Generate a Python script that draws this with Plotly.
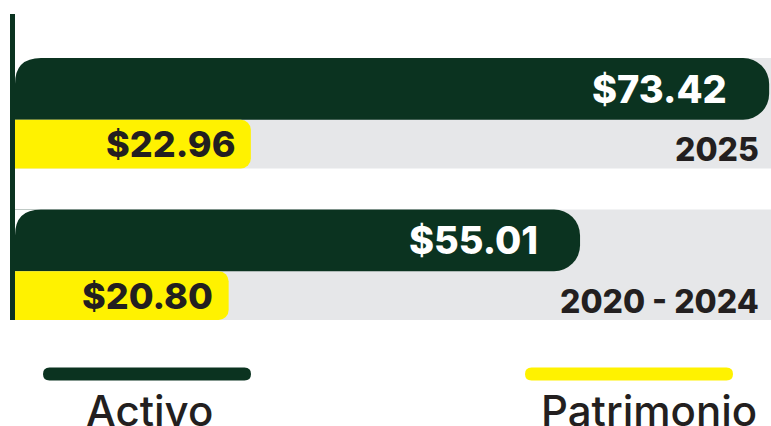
import plotly.graph_objects as go

# datos
periodos = ["2020 - 2024", "2025"]
activo = [55.01, 73.42]
patrimonio = [20.80, 22.96]
series = ["Activo", "Patrimonio"]

VERDE = "#0b3320"
AMARILLO = "#fff200"
GRIS = "#e6e7e9"
TEXTO = "#231f20"
FUENTE = "Inter, Open Sans, sans-serif"

W, H = 771, 426
L, R, T, B = 15, 0, 14, 106
PW, PH = W - L - R, H - T - B
ANCHO_ACT, ANCHO_PAT = 0.408, 0.322
RADIO = 26


def px_x(px):
    return (px - L) / PW


def px_y(py):
    return (H - B - py) / PH


def pill(x0, x1, yc, h):
    # rounded legend stroke, pixel sized
    n = x1 - x0
    r = h / 2
    path = (f"M {r},{-r} L {n - r},{-r} Q {n},{-r} {n},0 Q {n},{r} {n - r},{r} "
            f"L {r},{r} Q 0,{r} 0,0 Q 0,{-r} {r},{-r} Z")
    return dict(xref="paper", yref="paper", xsizemode="pixel", ysizemode="pixel",
                xanchor=px_x(x0), yanchor=px_y(yc), path=path)


grupo = list(range(len(periodos)))
y_act = [g + 0.161 for g in grupo]
y_pat = [g - 0.204 for g in grupo]

fig = go.Figure()

# grey background per period
for g in grupo:
    fig.add_shape(type="rect", xref="x domain", yref="y", x0=0, x1=1,
                  y0=g - 0.365, y1=g + 0.365, fillcolor=GRIS, line_width=0,
                  layer="below")

fig.add_trace(go.Bar(
    y=y_act, x=activo, orientation="h", width=ANCHO_ACT, name=series[0],
    marker=dict(color=VERDE, cornerradius=RADIO, line_width=0), hoverinfo="skip",
))
fig.add_trace(go.Bar(
    y=y_pat, x=patrimonio, orientation="h", width=ANCHO_PAT, name=series[1],
    marker=dict(color=AMARILLO, cornerradius=10, line_width=0), hoverinfo="skip",
))

# round the top-left corner of the green bars
for g in grupo:
    fig.add_shape(type="path", xref="x", yref="y", xsizemode="pixel", ysizemode="pixel",
                  xanchor=0, yanchor=y_act[g] + ANCHO_ACT / 2,
                  path=f"M 0,0 L {RADIO},0 Q 0,0 0,{-RADIO} Z",
                  fillcolor="white", line_width=0)

# value labels
for g in grupo:
    fig.add_annotation(x=activo[g], y=y_act[g], text=f"${activo[g]:.2f}",
                       xanchor="right", xshift=-40, showarrow=False,
                       font=dict(family=FUENTE, size=38, color="white", weight=800))
    fig.add_annotation(x=patrimonio[g], y=y_pat[g], text=f"${patrimonio[g]:.2f}",
                       xanchor="right", xshift=-14, showarrow=False,
                       font=dict(family=FUENTE, size=36, color=TEXTO, weight=800))
    fig.add_annotation(xref="paper", x=1, y=g - 0.24, text=periodos[g],
                       xanchor="right", xshift=-10, showarrow=False,
                       font=dict(family=FUENTE, size=32, color=TEXTO, weight=800))

# custom legend
leyenda = [(series[0], VERDE, 43, 251, 149),
           (series[1], AMARILLO, 525, 733, 649)]
for nombre, color, x0, x1, xt in leyenda:
    fig.add_shape(type="path", fillcolor=color, line_width=0, **pill(x0, x1, 374, 13))
    fig.add_annotation(xref="paper", yref="paper", x=px_x(xt), y=px_y(410),
                       text=nombre, xanchor="center", yanchor="middle", showarrow=False,
                       font=dict(family=FUENTE, size=42, color=TEXTO, weight=500))

fig.update_layout(
    width=W, height=H,
    margin=dict(l=L, r=R, t=T, b=B),
    barmode="overlay",
    showlegend=False,
    paper_bgcolor="white",
    plot_bgcolor="white",
)
fig.update_xaxes(range=[0, 73.6], visible=False)
fig.update_yaxes(range=[-0.365, 1.655], showline=True, linewidth=5, linecolor=VERDE,
                 showticklabels=False, showgrid=False, zeroline=False, ticks="")

fig.write_html("out.html", config={"displayModeBar": False},
               post_script="document.body.style.margin='0';")
